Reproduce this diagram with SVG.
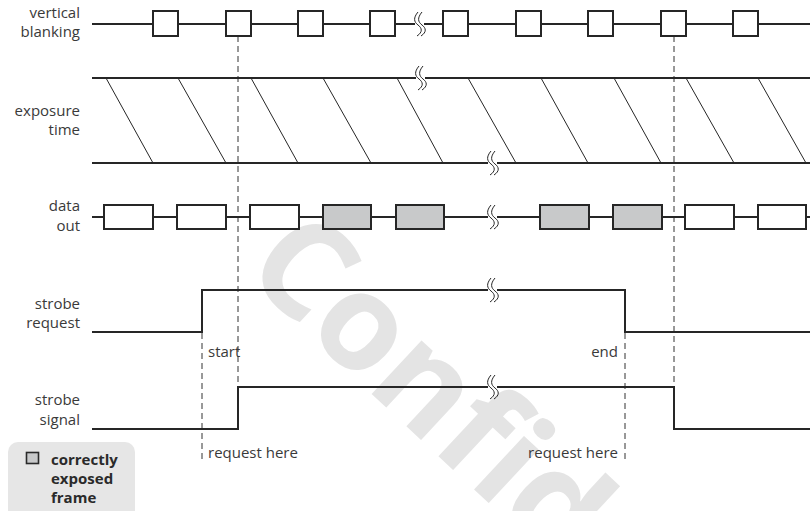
<svg xmlns="http://www.w3.org/2000/svg" xmlns:xlink="http://www.w3.org/1999/xlink" width="810" height="511" viewBox="0 0 810 511">
<style>
  .lbl { font-family: "Open Sans", "DejaVu Sans", sans-serif; font-size: 15px; fill: #3a3a3a; }
  .end { text-anchor: end; }
  .sig { fill: none; stroke: #262626; stroke-width: 2; }
  .diag { fill: none; stroke: #262626; stroke-width: 1; }
  .dash { fill: none; stroke: #333; stroke-width: 1; stroke-dasharray: 6 4; }
  .box { fill: #ffffff; stroke: #262626; stroke-width: 2; }
  .gbox { fill: #c8c9ca; stroke: #262626; stroke-width: 2; }
  .sqp { fill: none; stroke: #262626; stroke-width: 1; }
  .leg { font-family: "Open Sans", "DejaVu Sans", sans-serif; font-size: 15px; font-weight: bold; fill: #2a2a2a; }
  .wm { font-family: "Open Sans", "DejaVu Sans", sans-serif; font-size: 134px; font-weight: bold; fill: #e4e4e4; }
</style>
<defs>
  <g id="sq">
    <rect x="-4" y="-5" width="9" height="10" fill="#ffffff"/>
    <path class="sqp" d="M-1,-12 C-6,-6 -5,-2 -1,1 C3,4 4,8 -2,12"/>
    <path class="sqp" d="M3,-12 C-2,-6 -1,-2 3,1 C7,4 8,8 2,12"/>
  </g>
</defs>
<rect width="810" height="511" fill="#ffffff"/>

<g id="watermark">
  <text class="wm" transform="translate(241,272) rotate(43)">Confidential</text>
</g>

<g id="labels">
  <text class="lbl end" x="80" y="18">vertical</text>
  <text class="lbl end" x="80" y="37">blanking</text>
  <text class="lbl end" x="80" y="116">exposure</text>
  <text class="lbl end" x="80" y="135">time</text>
  <text class="lbl end" x="80" y="211">data</text>
  <text class="lbl end" x="80" y="231">out</text>
  <text class="lbl end" x="80" y="309">strobe</text>
  <text class="lbl end" x="80" y="328">request</text>
  <text class="lbl end" x="80" y="405">strobe</text>
  <text class="lbl end" x="80" y="425">signal</text>
</g>

<g id="connectors">
  <line class="dash" x1="238" y1="36" x2="238" y2="387"/>
  <line class="dash" x1="674" y1="36" x2="674" y2="387"/>
  <line class="dash" x1="202" y1="333" x2="202" y2="463"/>
  <line class="dash" x1="625" y1="333" x2="625" y2="463"/>
</g>

<g id="vertical-blanking">
  <line class="sig" x1="92" y1="24" x2="810" y2="24"/>
  <use xlink:href="#sq" x="419" y="24"/>
  <rect class="box" x="153" y="11" width="25" height="25"/>
  <rect class="box" x="226" y="11" width="25" height="25"/>
  <rect class="box" x="298" y="11" width="25" height="25"/>
  <rect class="box" x="370" y="11" width="25" height="25"/>
  <rect class="box" x="443" y="11" width="25" height="25"/>
  <rect class="box" x="516" y="11" width="25" height="25"/>
  <rect class="box" x="588" y="11" width="25" height="25"/>
  <rect class="box" x="661" y="11" width="25" height="25"/>
  <rect class="box" x="733" y="11" width="25" height="25"/>
</g>

<g id="exposure-time">
  <line class="diag" x1="106" y1="78" x2="153" y2="163"/>
  <line class="diag" x1="178" y1="78" x2="226" y2="163"/>
  <line class="diag" x1="251" y1="78" x2="298" y2="163"/>
  <line class="diag" x1="323" y1="78" x2="371" y2="163"/>
  <line class="diag" x1="397" y1="78" x2="443" y2="163"/>
  <line class="diag" x1="468" y1="78" x2="516" y2="163"/>
  <line class="diag" x1="541" y1="78" x2="588" y2="163"/>
  <line class="diag" x1="614" y1="78" x2="661" y2="163"/>
  <line class="diag" x1="686" y1="78" x2="734" y2="163"/>
  <line class="diag" x1="758" y1="78" x2="806" y2="163"/>
  <line class="sig" x1="92" y1="78" x2="810" y2="78"/>
  <line class="sig" x1="92" y1="163" x2="810" y2="163"/>
  <use xlink:href="#sq" x="420" y="78"/>
  <use xlink:href="#sq" x="492" y="163"/>
</g>

<g id="data-out">
  <line class="sig" x1="92" y1="217" x2="810" y2="217"/>
  <use xlink:href="#sq" x="492" y="217"/>
  <rect class="box" x="104" y="205" width="49" height="24"/>
  <rect class="box" x="177" y="205" width="49" height="24"/>
  <rect class="box" x="250" y="205" width="49" height="24"/>
  <rect class="gbox" x="323" y="205" width="48" height="24"/>
  <rect class="gbox" x="396" y="205" width="48" height="24"/>
  <rect class="gbox" x="540" y="205" width="49" height="24"/>
  <rect class="gbox" x="613" y="205" width="49" height="24"/>
  <rect class="box" x="685" y="205" width="49" height="24"/>
  <rect class="box" x="758" y="205" width="48" height="24"/>
</g>

<g id="strobe-request">
  <polyline class="sig" points="92,332 202,332 202,290 625,290 625,332 810,332"/>
  <use xlink:href="#sq" x="492" y="290"/>
  <text class="lbl" x="208" y="357">start</text>
  <text class="lbl end" x="618" y="357">end</text>
</g>

<g id="strobe-signal">
  <polyline class="sig" points="92,429 238,429 238,387 674,387 674,429 810,429"/>
  <use xlink:href="#sq" x="492" y="387"/>
  <text class="lbl" x="208" y="458">request here</text>
  <text class="lbl end" x="618" y="458">request here</text>
</g>

<g id="legend">
  <rect x="8" y="442" width="127" height="85" rx="10" fill="#e6e6e6"/>
  <rect x="26.5" y="452.5" width="12" height="11" fill="#c8c9ca" stroke="#2a2a2a" stroke-width="1.6"/>
  <text class="leg" x="51" y="465">correctly</text>
  <text class="leg" x="51" y="484">exposed</text>
  <text class="leg" x="51" y="503">frame</text>
</g>
</svg>
